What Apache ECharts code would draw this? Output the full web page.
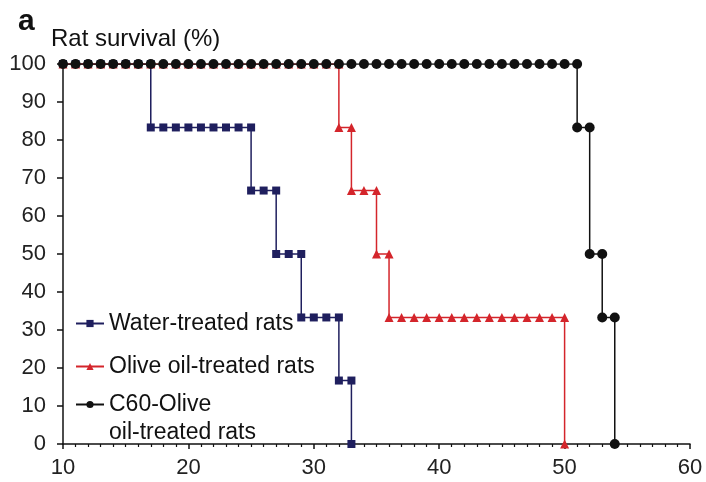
<!DOCTYPE html>
<html>
<head>
<meta charset="utf-8">
<script src="https://cdn.jsdelivr.net/npm/echarts@6/dist/echarts.min.js"></script>
<style>
html,body{margin:0;padding:0;background:#fff;}
#chart{width:706px;height:482px;}
</style>
</head>
<body>
<div id="chart"></div>
<script>
// Series names
const seriesNames = ['Water-treated rats', 'Olive oil-treated rats', 'C60-Olive oil-treated rats'];

// Water-treated rats (days, survival %)
const waterDays = [10,11,12,13,14,15,16,17,17,18,19,20,21,22,23,24,25,25,26,27,27,28,29,29,30,31,32,32,33,33];
const waterSurv = [100,100,100,100,100,100,100,100,83.3,83.3,83.3,83.3,83.3,83.3,83.3,83.3,83.3,66.7,66.7,66.7,50,50,50,33.3,33.3,33.3,33.3,16.7,16.7,0];

// Olive oil-treated rats
const oliveDays = [10,11,12,13,14,15,16,17,18,19,20,21,22,23,24,25,26,27,28,29,30,31,32,32,33,33,34,35,35,36,36,37,38,39,40,41,42,43,44,45,46,47,48,49,50,50];
const oliveSurv = [100,100,100,100,100,100,100,100,100,100,100,100,100,100,100,100,100,100,100,100,100,100,100,83.3,83.3,66.7,66.7,66.7,50,50,33.3,33.3,33.3,33.3,33.3,33.3,33.3,33.3,33.3,33.3,33.3,33.3,33.3,33.3,33.3,0];

// C60-Olive oil-treated rats
const c60Days = [10,11,12,13,14,15,16,17,18,19,20,21,22,23,24,25,26,27,28,29,30,31,32,33,34,35,36,37,38,39,40,41,42,43,44,45,46,47,48,49,50,51,51,52,52,53,53,54,54];
const c60Surv = [100,100,100,100,100,100,100,100,100,100,100,100,100,100,100,100,100,100,100,100,100,100,100,100,100,100,100,100,100,100,100,100,100,100,100,100,100,100,100,100,100,100,83.3,83.3,50,50,33.3,33.3,0];

// Axis ticks
const xTicks = [10, 20, 30, 40, 50, 60];
const yTicks = [0, 10, 20, 30, 40, 50, 60, 70, 80, 90, 100];

function pairs(xs, ys) { return xs.map((x, i) => [x, ys[i]]); }

const chart = echarts.init(document.getElementById('chart'), null, {renderer: 'canvas'});
const fontFam = '"Liberation Sans", Arial, sans-serif';
const legendText = {fontFamily: fontFam, fontSize: 23, color: '#111'};

const option = {
  backgroundColor: '#fff',
  animation: false,
  title: [
    {text: 'a', left: 13, top: 2, textStyle: {fontFamily: fontFam, fontSize: 30, fontWeight: 'bold', color: '#111'}},
    {text: 'Rat survival (%)', left: 46, top: 22, textStyle: {fontFamily: fontFam, fontSize: 24, fontWeight: 'normal', color: '#111'}}
  ],
  grid: {left: 63, right: 16, top: 64, bottom: 38, containLabel: false},
  legend: [
    {data: [seriesNames[0]], left: 70, top: 307, orient: 'vertical', itemWidth: 28, itemHeight: 9, itemGap: 0, textStyle: legendText, selectedMode: false},
    {data: [seriesNames[1]], left: 70, top: 350, orient: 'vertical', itemWidth: 28, itemHeight: 9, itemGap: 0, textStyle: legendText, selectedMode: false},
    {data: [seriesNames[2]], left: 70, top: 360, orient: 'vertical', itemWidth: 28, itemHeight: 9, itemGap: 0, selectedMode: false,
     formatter: function () { return '{p| }\n{t|C60-Olive}\n{t|oil-treated rats}'; },
     textStyle: Object.assign({}, legendText, {
       rich: {
         p: {fontFamily: fontFam, fontSize: 23, lineHeight: 28},
         t: {fontFamily: fontFam, fontSize: 23, lineHeight: 28, color: '#111'}
       }
     })}
  ],
  xAxis: {
    type: 'value', min: xTicks[0], max: xTicks[xTicks.length - 1], interval: 10,
    axisLine: {lineStyle: {color: '#111', width: 1.5}},
    axisTick: {show: true, length: 5, lineStyle: {color: '#111', width: 1.5}},
    minorTick: {show: true, splitNumber: 10, length: 3, lineStyle: {color: '#111', width: 1.2}},
    splitLine: {show: false},
    axisLabel: {fontFamily: fontFam, fontSize: 22, color: '#222', margin: 13}
  },
  yAxis: {
    type: 'value', min: yTicks[0], max: yTicks[yTicks.length - 1], interval: 10,
    axisLine: {show: true, lineStyle: {color: '#111', width: 1.5}},
    axisTick: {show: true, length: 6, lineStyle: {color: '#111', width: 1.5}},
    splitLine: {show: false},
    axisLabel: {fontFamily: fontFam, fontSize: 22, color: '#222', margin: 17}
  },
  series: [
    {name: seriesNames[0], type: 'line', data: pairs(waterDays, waterSurv), symbol: 'rect', symbolSize: 8,
     lineStyle: {color: '#1f1f5e', width: 1.5}, itemStyle: {color: '#1f1f5e'}},
    {name: seriesNames[1], type: 'line', data: pairs(oliveDays, oliveSurv), symbol: 'triangle', symbolSize: 9,
     lineStyle: {color: '#d4252b', width: 1.5}, itemStyle: {color: '#d4252b'}},
    {name: seriesNames[2], type: 'line', data: pairs(c60Days, c60Surv), symbol: 'circle', symbolSize: 10,
     lineStyle: {color: '#111', width: 1.5}, itemStyle: {color: '#111'}}
  ]
};
chart.setOption(option);
</script>
</body>
</html>
